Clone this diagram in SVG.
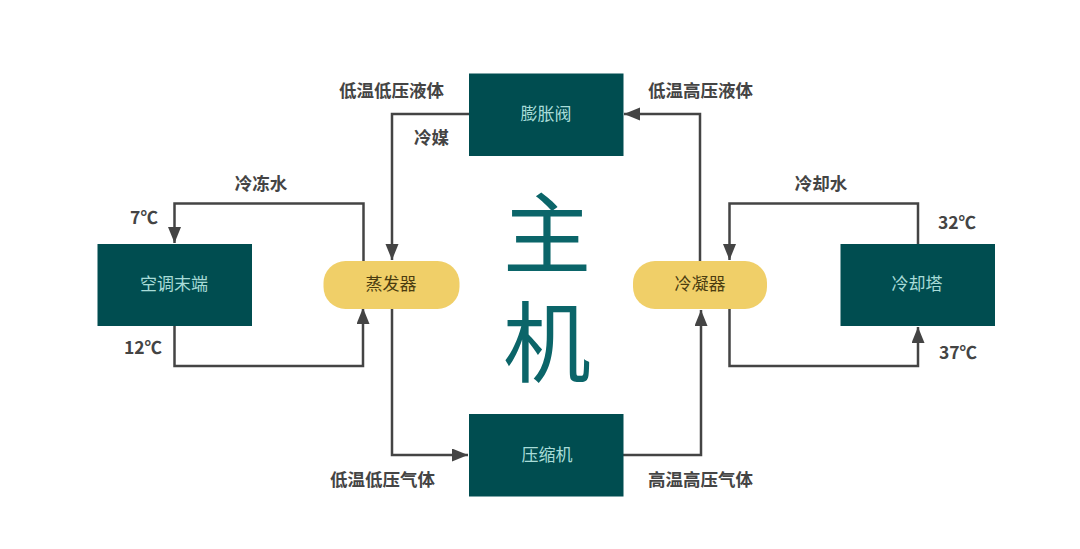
<svg xmlns="http://www.w3.org/2000/svg" width="1080" height="549" viewBox="0 0 1080 549">
<style>
text{font-family:"Noto Sans CJK SC","Liberation Sans",sans-serif;text-anchor:middle}
.box{fill:#004d50}
.cap{fill:#f0cf68}
.bt{fill:#a8dcd8;font-size:17px}
.ct{fill:#4a3c10;font-size:17px}
.lb{fill:#444;font-size:17.500px;font-weight:700}
.ln{fill:none;stroke:#444;stroke-width:2.500}
.big{fill:#0b6569;font-size:88px}
</style>
<defs><marker id="a" markerUnits="userSpaceOnUse" markerWidth="18" markerHeight="14" refX="16" refY="6.500" orient="auto"><path d="M0 0L16 6.500L0 13z" fill="#444"/></marker></defs>
<rect width="1080" height="549" fill="#fff"/>
<g id="connectors">
<path class="ln" d="M363.500 261V203.500H174.500V243" marker-end="url(#a)"/>
<path class="ln" d="M174.500 326V366H363V308" marker-end="url(#a)"/>
<path class="ln" d="M469 114H392V260" marker-end="url(#a)"/>
<path class="ln" d="M392 309V455H468" marker-end="url(#a)"/>
<path class="ln" d="M700 261V114H624" marker-end="url(#a)"/>
<path class="ln" d="M623 455H701V310" marker-end="url(#a)"/>
<path class="ln" d="M918 244V203.500H729.500V260" marker-end="url(#a)"/>
<path class="ln" d="M729.500 309V366H918V327" marker-end="url(#a)"/>
</g>
<g id="n1"><rect class="box" x="97.500" y="244" width="154.500" height="82"/><text class="bt" x="174" y="290">空调末端</text></g>
<g id="n2"><rect class="cap" x="323.500" y="261" width="136" height="48" rx="22"/><text class="ct" x="391" y="290">蒸发器</text></g>
<g id="n3"><rect class="box" x="469" y="73.500" width="154.500" height="82.500"/><text class="bt" x="546" y="119.500">膨胀阀</text></g>
<g id="n4"><rect class="box" x="469" y="414" width="154.500" height="82.500"/><text class="bt" x="547" y="460.500">压缩机</text></g>
<g id="n5"><rect class="cap" x="633" y="261" width="134" height="48" rx="22"/><text class="ct" x="700" y="290">冷凝器</text></g>
<g id="n6"><rect class="box" x="840.500" y="244" width="154.500" height="82"/><text class="bt" x="917" y="290">冷却塔</text></g>
<g id="labels">
<text class="big"><tspan x="547" y="265.500">主</tspan><tspan x="547" y="374.500">机</tspan></text>
<text class="lb" x="261" y="189.500">冷冻水</text>
<text class="lb" x="821" y="189.500">冷却水</text>
<text class="lb" x="144" y="223.500">7℃</text>
<text class="lb" x="143" y="353.500">12℃</text>
<text class="lb" x="957" y="229">32℃</text>
<text class="lb" x="958" y="359">37℃</text>
<text class="lb" x="391.500" y="97">低温低压液体</text>
<text class="lb" x="700.500" y="97">低温高压液体</text>
<text class="lb" x="431.500" y="144">冷媒</text>
<text class="lb" x="382.500" y="486">低温低压气体</text>
<text class="lb" x="700.500" y="486">高温高压气体</text>
</g>
</svg>
